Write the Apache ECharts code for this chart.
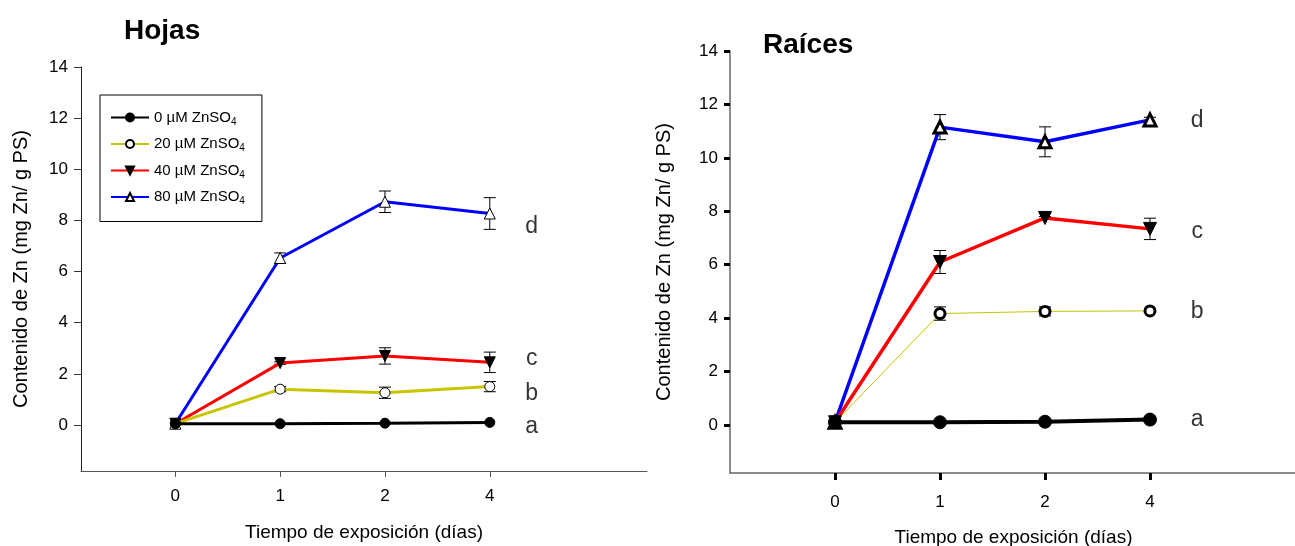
<!DOCTYPE html>
<html>
<head>
<meta charset="utf-8">
<script src="https://cdn.jsdelivr.net/npm/echarts@6/dist/echarts.min.js"></script>
<style>
  html, body { margin: 0; padding: 0; background: #fff; }
  #chart { width: 1295px; height: 546px; }
</style>
</head>
<body>
<div id="chart"></div>
<script>
// dias de exposicion (etiquetas del eje x)
var days = ['0', '1', '2', '4'];
var yTicks = [0, 2, 4, 6, 8, 10, 12, 14];
var seriesNames = ['0 µM ZnSO4', '20 µM ZnSO4', '40 µM ZnSO4', '80 µM ZnSO4'];

// Hojas
var hojas0 = [0.05, 0.05, 0.07, 0.1];
var hojas20 = [0.05, 1.4, 1.26, 1.5];
var hojas40 = [0.05, 2.42, 2.7, 2.45];
var hojas80 = [0.05, 6.53, 8.73, 8.27];
var hojasErr20 = [0, 0.1, 0.22, 0.2];
var hojasErr40 = [0, 0.05, 0.32, 0.4];
var hojasErr80 = [0, 0.2, 0.42, 0.62];

// Raices
var raices0 = [0.1, 0.1, 0.12, 0.2];
var raices20 = [0.1, 4.17, 4.25, 4.27];
var raices40 = [0.1, 6.1, 7.75, 7.34];
var raices80 = [0.1, 11.15, 10.6, 11.42];
var raicesErr20 = [0, 0.25, 0.17, 0.05];
var raicesErr40 = [0, 0.43, 0.05, 0.4];
var raicesErr80 = [0, 0.47, 0.56, 0.1];

// letras de significancia (a, b, c, d)
var letters = ['a', 'b', 'c', 'd'];
var hojasLetterX = 3.4;
var hojasLetterY = [-0.05, 1.23, 2.6, 7.75];
var raicesLetterX = 3.45;
var raicesLetterY = [0.2, 4.23, 7.25, 11.4];

var font = 'Liberation Sans, Arial, sans-serif';
var myChart = echarts.init(document.getElementById('chart'));

function lineSeries(name, vals, idx, color, width, symbol, size, fill, border, rotate) {
    return {
        name: name,
        type: 'line',
        xAxisIndex: idx,
        yAxisIndex: idx,
        data: vals.map(function (v, i) { return [i, v]; }),
        symbol: symbol,
        symbolSize: size,
        symbolRotate: rotate || 0,
        showAllSymbol: true,
        lineStyle: {color: color, width: width},
        itemStyle: {color: fill, borderColor: '#000', borderWidth: border},
        emphasis: {disabled: true},
        z: 3
    };
}

function errSeries(vals, errs, idx) {
    var d = [];
    vals.forEach(function (v, i) {
        if (errs[i] > 0) d.push([i, v - errs[i], v + errs[i]]);
    });
    return {
        type: 'custom',
        xAxisIndex: idx,
        yAxisIndex: idx,
        silent: true,
        z: 2,
        encode: {x: 0, y: [1, 2]},
        data: d,
        renderItem: function (params, api) {
            var lo = api.coord([api.value(0), api.value(1)]);
            var hi = api.coord([api.value(0), api.value(2)]);
            var w = 6;
            var st = {stroke: '#000', lineWidth: 1};
            return {
                type: 'group',
                children: [
                    {type: 'line', shape: {x1: lo[0], y1: lo[1], x2: hi[0], y2: hi[1]}, style: st},
                    {type: 'line', shape: {x1: lo[0] - w, y1: lo[1], x2: lo[0] + w, y2: lo[1]}, style: st},
                    {type: 'line', shape: {x1: hi[0] - w, y1: hi[1], x2: hi[0] + w, y2: hi[1]}, style: st}
                ]
            };
        }
    };
}

function letterSeries(xv, ys, idx) {
    return {
        type: 'scatter',
        xAxisIndex: idx,
        yAxisIndex: idx,
        symbolSize: 1,
        silent: true,
        itemStyle: {color: 'rgba(0,0,0,0)'},
        data: ys.map(function (y, i) { return {value: [xv, y], name: letters[i]}; }),
        label: {
            show: true,
            position: 'inside',
            formatter: '{b}',
            fontSize: 23,
            fontFamily: font,
            color: '#000',
            textBorderWidth: 0
        }
    };
}

function xAxisOpt(idx, min, max, tk, gap) {
    return {
        type: 'value',
        gridIndex: idx,
        min: min,
        max: max,
        axisLine: {onZero: false, lineStyle: {color: idx ? '#666' : '#555', width: idx ? 1.5 : 1}},
        axisTick: {customValues: [0, 1, 2, 3], length: tk.len, lineStyle: {color: tk.color, width: tk.width}},
        axisLabel: {
            customValues: [0, 1, 2, 3],
            formatter: function (v) { return days[Math.round(v)]; },
            margin: tk.margin,
            fontSize: 17,
            fontFamily: font,
            color: '#000'
        },
        splitLine: {show: false},
        name: 'Tiempo de exposición (días)',
        nameLocation: 'middle',
        nameGap: gap,
        nameTextStyle: {fontSize: 19, fontFamily: font, color: '#000'}
    };
}

function yAxisOpt(idx, tk, gap) {
    return {
        type: 'value',
        gridIndex: idx,
        min: -1.8,
        max: 14,
        axisLine: {onZero: false, lineStyle: {color: idx ? '#666' : '#222', width: idx ? 1.5 : 1}},
        axisTick: {customValues: yTicks, length: tk.len, lineStyle: {color: tk.color, width: tk.width}},
        axisLabel: {
            customValues: yTicks,
            margin: tk.margin,
            fontSize: 17,
            fontFamily: font,
            color: '#000'
        },
        splitLine: {show: false},
        name: 'Contenido de Zn (mg Zn/ g PS)',
        nameLocation: 'middle',
        nameGap: gap,
        nameTextStyle: {fontSize: 20, fontFamily: font, color: '#000'}
    };
}

var option = {
    backgroundColor: '#fff',
    animation: false,
    title: [
        {text: 'Hojas', left: 119, top: 12, textStyle: {fontSize: 28, fontWeight: 'bold', fontFamily: font, color: '#000'}},
        {text: 'Raíces', left: 758, top: 26, textStyle: {fontSize: 28, fontWeight: 'bold', fontFamily: font, color: '#000'}}
    ],
    legend: {
        data: seriesNames,
        orient: 'vertical',
        left: 100,
        top: 95,
        padding: [15, 17, 15, 10],
        itemWidth: 38,
        itemHeight: 10,
        itemGap: 9.5,
        borderColor: '#000',
        borderWidth: 1,
        selectedMode: false,
        formatter: function (name) {
            return '{t|' + name.slice(0, -1) + '}{s|4}';
        },
        textStyle: {
            fontFamily: font,
            color: '#000',
            rich: {
                t: {fontSize: 15, fontFamily: font, color: '#000'},
                s: {fontSize: 10, fontFamily: font, color: '#000', padding: [9, 0, 0, 0]}
            }
        }
    },
    grid: [
        {left: 81, top: 67, width: 566, height: 404, outerBoundsMode: 'none'},
        {left: 730, top: 51, width: 567, height: 422, outerBoundsMode: 'none'}
    ],
    xAxis: [
        xAxisOpt(0, -0.9, 4.5, {len: 6, color: '#555', width: 1, margin: 17}, 52),
        xAxisOpt(1, -1, 4.4, {len: 7, color: '#000', width: 3, margin: 21}, 55)
    ],
    yAxis: [
        yAxisOpt(0, {len: 7, color: '#333', width: 1, margin: 13}, 50),
        yAxisOpt(1, {len: 6, color: '#000', width: 3, margin: 12}, 56)
    ],
    series: [
        errSeries(hojas20, hojasErr20, 0),
        errSeries(hojas40, hojasErr40, 0),
        errSeries(hojas80, hojasErr80, 0),
        lineSeries(seriesNames[3], hojas80, 0, '#0000ff', 3, 'triangle', 11, '#fff', 1),
        lineSeries(seriesNames[2], hojas40, 0, '#ff0000', 3, 'triangle', 11, '#000', 1, 180),
        lineSeries(seriesNames[1], hojas20, 0, '#c8c400', 3, 'circle', 10, '#fff', 1),
        lineSeries(seriesNames[0], hojas0, 0, '#000', 3, 'circle', 10, '#000', 1),
        letterSeries(hojasLetterX, hojasLetterY, 0),

        errSeries(raices20, raicesErr20, 1),
        errSeries(raices40, raicesErr40, 1),
        errSeries(raices80, raicesErr80, 1),
        lineSeries(seriesNames[3], raices80, 1, '#0000ff', 3.5, 'triangle', 12, '#fff', 3),
        lineSeries(seriesNames[2], raices40, 1, '#ff0000', 3.5, 'triangle', 13, '#000', 1, 180),
        lineSeries(seriesNames[1], raices20, 1, '#c8c400', 1, 'circle', 10, '#fff', 3),
        lineSeries(seriesNames[0], raices0, 1, '#000', 4, 'circle', 13, '#000', 1),
        letterSeries(raicesLetterX, raicesLetterY, 1)
    ]
};

if (option && typeof option === 'object') {
    myChart.setOption(option, true);
}
</script>
</body>
</html>
